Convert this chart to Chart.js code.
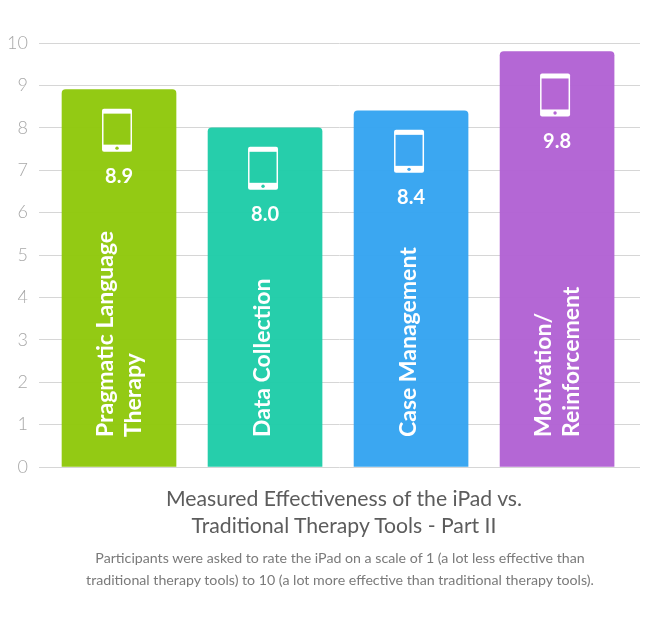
<!DOCTYPE html>
<html>
<head>
<meta charset="utf-8">
<title>Measured Effectiveness of the iPad</title>
<script src="https://cdn.jsdelivr.net/npm/chart.js@4"></script>
<style>
    html, body { margin: 0; padding: 0; background: #fff; }
    #wrap { position: relative; width: 662px; height: 642px; overflow: hidden; }
    .caption { position: absolute; width: 662px; text-align: center; font-family: Lato, sans-serif; white-space: nowrap; }
    #title { top: 485px; left: 13px; font-size: 21.2px; line-height: 27px; color: #5c5c5c; }
    #note { top: 547px; left: 9px; font-size: 14.2px; line-height: 22px; color: #7a7a7a; }
</style>
</head>
<body>
<div id="wrap">
    <canvas id="chart" width="662" height="642"></canvas>
    <div class="caption" id="title">Measured Effectiveness of the iPad vs.<br>Traditional Therapy Tools - Part II</div>
    <div class="caption" id="note">Participants were asked to rate the iPad on a scale of 1 (a lot less effective than<br>traditional therapy tools) to 10 (a lot more effective than traditional therapy tools).</div>
</div>
<script>
const categories = [['Pragmatic Language', 'Therapy'], ['Data Collection'], ['Case Management'], ['Motivation/', 'Reinforcement']];
const scores = [8.9, 8.0, 8.4, 9.8];
const barColors = ['rgba(143,200,12,0.97)', 'rgba(31,204,168,0.97)', 'rgba(53,164,241,0.97)', 'rgba(178,98,212,0.97)'];

// the last bar sits a little lower inside its column
const iconShift = [0, 0, 0, 3];

function drawTablet(ctx, x, y, fill) {
    ctx.fillStyle = '#fff';
    ctx.beginPath();
    ctx.roundRect(x, y, 30, 43, 2);
    ctx.fill();
    ctx.fillStyle = fill;
    ctx.fillRect(x + 1.5, y + 5, 27, 31);
    ctx.beginPath();
    ctx.arc(x + 15, y + 39.5, 1.7, 0, Math.PI * 2);
    ctx.fill();
}

// tablet icon, score and rotated category name inside each bar
const barLabels = {
    id: 'barLabels',
    afterDatasetsDraw(chart) {
        const ctx = chart.ctx;
        const bars = chart.getDatasetMeta(0).data;
        const solid = ['#92c914', '#25cda9', '#3ca6f1', '#b566d4'];
        bars.forEach((bar, i) => {
            const top = bar.y + iconShift[i];
            ctx.save();
            drawTablet(ctx, bar.x - 17, top + 19, solid[i]);

            ctx.fillStyle = '#fff';
            ctx.font = 'bold 20px Lato, sans-serif';
            ctx.textAlign = 'center';
            ctx.textBaseline = 'middle';
            ctx.fillText(scores[i].toFixed(1), bar.x, top + 87);

            const lines = categories[i];
            ctx.translate(bar.x, 437);
            ctx.rotate(-Math.PI / 2);
            ctx.font = 'bold 23px Lato, sans-serif';
            ctx.textAlign = 'left';
            lines.forEach((line, n) => {
                const offset = lines.length > 1 ? (n === 0 ? -13 : 15) : -2;
                ctx.fillText(line, 0, offset);
            });
            ctx.restore();
        });
    }
};

new Chart(document.getElementById('chart'), {
    type: 'bar',
    data: {
        datasets: [{
            data: scores.map((v, i) => ({ x: i, y: v })),
            backgroundColor: barColors,
            barThickness: 114,
            borderRadius: { topLeft: 4, topRight: 4, bottomLeft: 0, bottomRight: 0 },
            borderSkipped: false
        }]
    },
    options: {
        responsive: false,
        animation: false,
        layout: { padding: { left: 0, right: 22, top: 43, bottom: 175 } },
        plugins: { legend: { display: false }, tooltip: { enabled: false } },
        scales: {
            x: {
                type: 'linear',
                display: false,
                offset: false,
                min: -0.548,
                max: 3.568
            },
            y: {
                min: 0,
                max: 10,
                afterFit(scale) { scale.width = 39; },
                border: { display: false },
                grid: { color: '#d6d6d6', lineWidth: 1, drawTicks: false },
                ticks: {
                    stepSize: 1,
                    padding: 11,
                    color: '#a8a8a8',
                    font: { family: 'Lato, sans-serif', size: 18, weight: '300' }
                }
            }
        }
    },
    plugins: [barLabels]
});
</script>
</body>
</html>
